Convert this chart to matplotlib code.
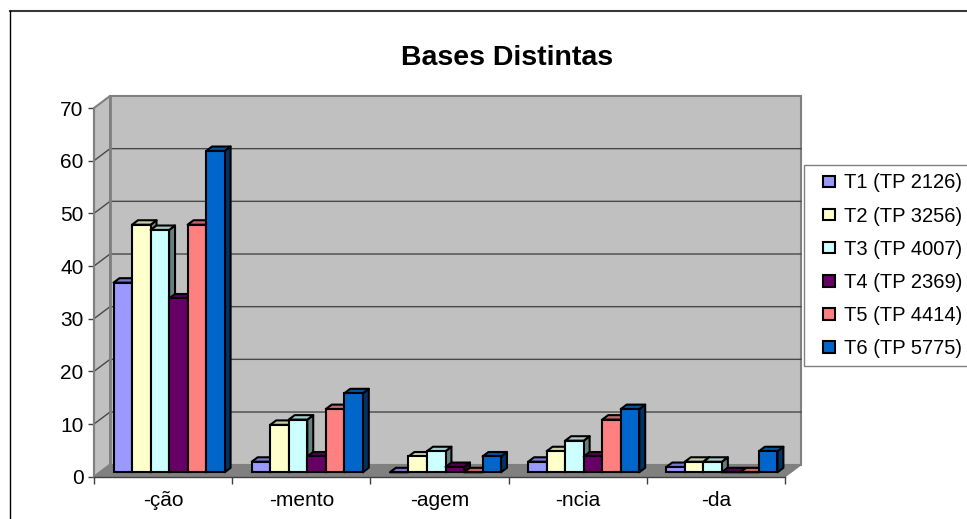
import matplotlib
matplotlib.use('Agg')
import matplotlib.pyplot as plt
from matplotlib.legend_handler import HandlerPatch
from matplotlib.lines import Line2D
from matplotlib.patches import Patch, Polygon, Rectangle

plt.rcParams['font.family'] = ['Liberation Sans', 'DejaVu Sans']

categories = ['-ção', '-mento', '-agem', '-ncia', '-da']
t1 = [36, 2, 0, 2, 1]
t2 = [47, 9, 3, 4, 2]
t3 = [46, 10, 4, 6, 2]
t4 = [33, 3, 1, 3, 0]
t5 = [47, 12, 0, 10, 0]
t6 = [61, 15, 3, 12, 4]
series_names = ['T1 (TP 2126)', 'T2 (TP 3256)', 'T3 (TP 4007)',
                'T4 (TP 2369)', 'T5 (TP 4414)', 'T6 (TP 5775)']
colors = ['#9999FF', '#FFFFCC', '#CCFFFF', '#660066', '#FF8080', '#0066CC']
y_ticks = [0, 10, 20, 30, 40, 50, 60, 70]


def shade(color, factor):
    r, g, b = matplotlib.colors.to_rgb(color)
    return (r * factor, g * factor, b * factor)


# small square at the right end of the legend handle area
def small_box(legend, orig_handle, xdescent, ydescent, width, height, fontsize):
    s = 0.58 * fontsize
    return Rectangle((width - s - xdescent, (height - s) / 2 - ydescent), s, s)


W, H = 967, 519
fig = plt.figure(figsize=(W / 100, H / 100), dpi=100, facecolor='white')
# the front plane of the fake 3D box
ax = fig.add_axes([94 / W, (H - 476.7) / H, 691 / W, 368.7 / H])
ax.set_xlim(0, 5)
ax.set_ylim(0, 70)
ax.patch.set_visible(False)

# depth of the box in data units
dx = 0.116
dy = 2.28

# walls and floor
ax.add_patch(Polygon([(dx, dy), (5 + dx, dy), (5 + dx, 70 + dy), (dx, 70 + dy)], closed=True,
                     fc='#C0C0C0', ec='#808080', lw=1.5, clip_on=False, zorder=1))
ax.add_patch(Polygon([(0, 0), (dx, dy), (dx, 70 + dy), (0, 70)], closed=True,
                     fc='#C0C0C0', ec='#808080', lw=1.5, clip_on=False, zorder=1))
ax.add_patch(Polygon([(0, 0), (5, 0), (5 + dx, dy), (dx, dy)], closed=True,
                     fc='#808080', ec='#808080', lw=1, clip_on=False, zorder=1))

# gridlines run along the side wall and then the back wall
for v in y_ticks[1:-1]:
    ax.plot([0, dx, 5 + dx], [v, v + dy, v + dy], color='#484848', lw=1,
            clip_on=False, zorder=2)
ax.plot([dx, dx], [dy, 70 + dy], color='#808080', lw=2, clip_on=False, zorder=2)

# bars, left to right so that each one hides the side of the previous
series = [t1, t2, t3, t4, t5, t6]
bar_w = 0.134
gap = 0.0985
front = 0.37
back = 0.74
edge = 1.5
z = 3
for c in range(len(categories)):
    for s in range(len(series)):
        val = series[s][c]
        x0 = c + gap + s * bar_w + front * dx
        y0 = front * dy
        ddx = (back - front) * dx
        ddy = (back - front) * dy
        ax.add_patch(Polygon([(x0 + bar_w, y0), (x0 + bar_w + ddx, y0 + ddy),
                              (x0 + bar_w + ddx, y0 + ddy + val), (x0 + bar_w, y0 + val)],
                             closed=True, fc=shade(colors[s], 0.5), ec='black', lw=edge,
                             clip_on=False, zorder=z, joinstyle='round'))
        ax.add_patch(Polygon([(x0, y0 + val), (x0 + bar_w, y0 + val),
                              (x0 + bar_w + ddx, y0 + val + ddy), (x0 + ddx, y0 + val + ddy)],
                             closed=True, fc=shade(colors[s], 0.8), ec='black', lw=edge,
                             clip_on=False, zorder=z, joinstyle='round'))
        ax.bar(x0, val, bar_w, bottom=y0, align='edge', color=colors[s], edgecolor='black',
               linewidth=edge, clip_on=False, zorder=z)
        z += 1

# axes
for side in ['top', 'right']:
    ax.spines[side].set_visible(False)
ax.spines['left'].set_color('#808080')
ax.spines['left'].set_linewidth(1.5)
ax.spines['bottom'].set_color('#404040')
ax.spines['bottom'].set_linewidth(1)
ax.spines['bottom'].set_zorder(z)
ax.set_yticks(y_ticks)
ax.set_xticks(range(6))
ax.set_xticklabels([])
ax.set_xticks([i + 0.5 for i in range(5)], minor=True)
ax.set_xticklabels(categories, minor=True)
ax.tick_params(axis='x', which='major', length=5, width=1, color='#404040')
ax.tick_params(axis='x', which='minor', length=0, pad=10, labelsize=15)
ax.tick_params(axis='y', length=4.5, width=1, color='#404040', pad=3, labelsize=15)

fig.text(507 / W, 1 - 58 / H, 'Bases Distintas', ha='center', va='center',
         fontsize=20.5, fontweight='bold')

# legend
handles = [Patch(facecolor=col, edgecolor='black', linewidth=1.5) for col in colors]
leg = fig.legend(handles, series_names, loc='upper left',
                 bbox_to_anchor=(804 / W, 1 - 165 / H), bbox_transform=fig.transFigure,
                 fontsize=14.5, frameon=True, fancybox=False, framealpha=1, edgecolor='#808080',
                 borderaxespad=0, borderpad=0.42, handlelength=1.1, handleheight=0.7,
                 handletextpad=0.45, labelspacing=0.7,
                 handler_map={Patch: HandlerPatch(patch_func=small_box)})
leg.get_frame().set_linewidth(1)

# chart area outline, only its top and left edges fall inside the picture
fig.add_artist(Line2D([9.5 / W, 1], [1 - 11 / H, 1 - 11 / H], transform=fig.transFigure,
                      color='#383838', lw=1.5))
fig.add_artist(Line2D([9.5 / W, 9.5 / W], [1 - 11 / H, 0], transform=fig.transFigure,
                      color='black', lw=1))

fig.savefig('out.png', dpi=100)
